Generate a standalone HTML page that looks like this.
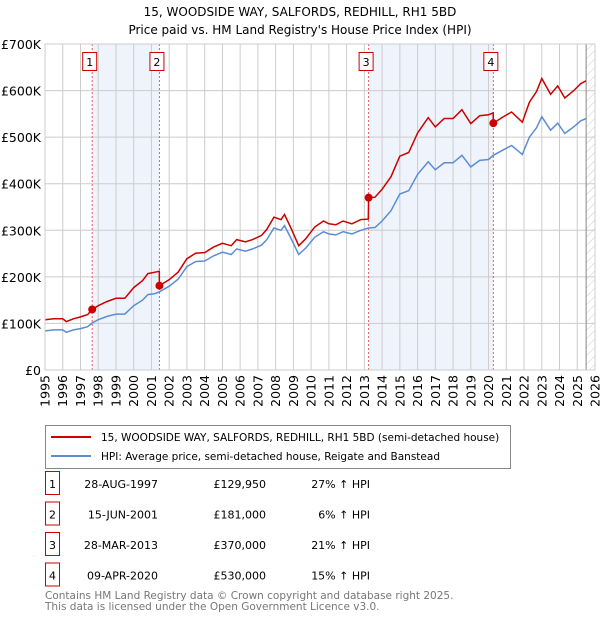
<!DOCTYPE html>
<html><head><meta charset="utf-8"><style>
body{margin:0;background:#fff;font-family:"DejaVu Sans","Liberation Sans",sans-serif;}
svg text{font-family:"DejaVu Sans","Liberation Sans",sans-serif;fill:#000;}
</style></head><body>
<svg id="c" width="600" height="620" viewBox="0 0 600 620" xmlns="http://www.w3.org/2000/svg">
<defs><pattern id="hatch" width="6" height="6" patternUnits="userSpaceOnUse" patternTransform="rotate(45)"><line x1="0" y1="0" x2="0" y2="6" stroke="#ccc" stroke-width="1"/></pattern></defs>
<text x="300" y="16" text-anchor="middle" font-size="12">15, WOODSIDE WAY, SALFORDS, REDHILL, RH1 5BD</text>
<text x="300" y="34" text-anchor="middle" font-size="12">Price paid vs. HM Land Registry's House Price Index (HPI)</text>
<g id="plot"></g>
<g>
<rect x="45.5" y="425.5" width="465" height="43" fill="#fff" stroke="#888"/>
<line x1="51" y1="437" x2="91" y2="437" stroke="#cc0000" stroke-width="2"/>
<text x="101" y="441" font-size="10.5">15, WOODSIDE WAY, SALFORDS, REDHILL, RH1 5BD (semi-detached house)</text>
<line x1="51" y1="456" x2="91" y2="456" stroke="#5b8dd6" stroke-width="2"/>
<text x="101" y="460" font-size="10.5">HPI: Average price, semi-detached house, Reigate and Banstead</text>
</g>
<g id="table" font-size="11"></g>
<text x="45" y="599" font-size="10.5" style="fill:#777">Contains HM Land Registry data © Crown copyright and database right 2025.</text>
<text x="45" y="610" font-size="10.5" style="fill:#777">This data is licensed under the Open Government Licence v3.0.</text>
</svg>
<script>
const hpiDates=[1995.0,1995.5,1996.0,1996.2,1996.6,1997.0,1997.4,1997.66,1998.0,1998.5,1999.0,1999.5,2000.0,2000.5,2000.8,2001.2,2001.45,2002.0,2002.5,2003.0,2003.5,2004.0,2004.5,2005.0,2005.5,2005.8,2006.3,2006.7,2007.2,2007.5,2007.9,2008.3,2008.5,2008.9,2009.3,2009.7,2010.2,2010.7,2011.0,2011.4,2011.8,2012.3,2012.8,2013.24,2013.6,2014.0,2014.5,2015.0,2015.5,2016.0,2016.6,2017.0,2017.5,2018.0,2018.5,2019.0,2019.5,2020.0,2020.27,2020.8,2021.3,2021.9,2022.3,2022.7,2023.0,2023.5,2023.9,2024.3,2024.8,2025.2,2025.5];
const hpiValues=[84,86,86,81,86,89,93,101,108,115,120,120,138,150,162,164,168,180,195,222,233,234,245,253,248,260,255,260,268,280,305,300,310,280,248,262,285,297,292,290,297,292,300,305,306,320,342,378,385,420,447,430,445,445,461,436,450,452,461,472,482,463,500,520,544,515,530,508,522,535,540];
const priceDates=[1995.0,1995.5,1996.0,1996.2,1996.6,1997.0,1997.4,1997.66,1998.0,1998.5,1999.0,1999.5,2000.0,2000.5,2000.8,2001.2,2001.44,2001.45,2002.0,2002.5,2003.0,2003.5,2004.0,2004.5,2005.0,2005.5,2005.8,2006.3,2006.7,2007.2,2007.5,2007.9,2008.3,2008.5,2008.9,2009.3,2009.7,2010.2,2010.7,2011.0,2011.4,2011.8,2012.3,2012.8,2013.22,2013.24,2013.6,2014.0,2014.5,2015.0,2015.5,2016.0,2016.6,2017.0,2017.5,2018.0,2018.5,2019.0,2019.5,2020.0,2020.26,2020.27,2020.8,2021.3,2021.9,2022.3,2022.7,2023.0,2023.5,2023.9,2024.3,2024.8,2025.2,2025.5];
const priceValues=[108,110,110,104,110,114,119,129.95,138,147,154,154,177,192,207,210,212,181,194,210,239,251,252,264,272,267,280,275,280,289,302,328,323,334,302,267,282,307,320,314,312,320,314,323,324,370,371,388,415,459,467,509,542,522,540,540,559,529,546,548,552,530,543,554,532,575,598,626,592,610,584,600,615,621];
const saleLabels=["1","2","3","4"];
const saleDates=[1997.66,2001.45,2013.24,2020.27];
const saleDateText=["28-AUG-1997","15-JUN-2001","28-MAR-2013","09-APR-2020"];
const salePrices=[129.95,181,370,530];
const salePriceText=["£129,950","£181,000","£370,000","£530,000"];
const saleHpiText=["27% ↑ HPI","6% ↑ HPI","21% ↑ HPI","15% ↑ HPI"];
const yTicks=[0,100,200,300,400,500,600,700];
const yTickLabels=["£0","£100K","£200K","£300K","£400K","£500K","£600K","£700K"];
const xTicks=[1995,1996,1997,1998,1999,2000,2001,2002,2003,2004,2005,2006,2007,2008,2009,2010,2011,2012,2013,2014,2015,2016,2017,2018,2019,2020,2021,2022,2023,2024,2025,2026];

const NS="http://www.w3.org/2000/svg";
const X0=45,X1=595,Y0=370,Y1=44;
const xs=t=>X0+(t-1995)/(2026-1995)*(X1-X0);
const ys=v=>Y0-v/700*(Y0-Y1);
const plot=document.getElementById('plot');
function mk(tag,attrs,parent){const e=document.createElementNS(NS,tag);for(const k in attrs)e.setAttribute(k,attrs[k]);(parent||plot).appendChild(e);return e;}

for(let i=0;i<saleDates.length;i+=2){
  const r=mk('rect',{x:xs(saleDates[i]),y:Y1,width:xs(saleDates[i+1])-xs(saleDates[i]),height:Y0-Y1,fill:'#eef3fc'});
  
  
}
const hz=mk('rect',{x:xs(2025.5),y:Y1,width:X1-xs(2025.5),height:Y0-Y1,fill:'url(#hatch)'});


yTicks.forEach((v,i)=>{
  const l=mk('line',{x1:X0,x2:X1,y1:ys(v),y2:ys(v),stroke:'#ccc','stroke-width':1});
  
  
  const t=mk('text',{x:X0-4,y:ys(v)+5,'text-anchor':'end','font-size':'12.5'});
  t.textContent=yTickLabels[i];
  
  
});
xTicks.forEach(yr=>{
  const l=mk('line',{x1:xs(yr),x2:xs(yr),y1:Y1,y2:Y0,stroke:'#ccc','stroke-width':1});
  
  
  const t=mk('text',{x:0,y:0,'font-size':'12.5','text-anchor':'end',transform:`translate(${xs(yr)+4.5},${Y0+5}) rotate(-90)`});
  t.textContent=yr;
  
  
});
const cur=mk('line',{x1:xs(2025.5),x2:xs(2025.5),y1:Y1,y2:Y0,stroke:'#888','stroke-width':1});


saleDates.forEach((d,i)=>{
  const l=mk('line',{x1:xs(d),x2:xs(d),y1:Y1,y2:Y0,stroke:'#e06060','stroke-width':1,'stroke-dasharray':'2,2'});
  
  
  const b=mk('rect',{x:xs(d)-9.5,y:52.5,width:14,height:18,fill:'#fff',stroke:'#cc0000'});
  
  
  const t=mk('text',{x:xs(d)-2.5,y:66,'text-anchor':'middle','font-size':'11'});
  t.textContent=saleLabels[i];
  
  
});
const hp=mk('path',{d:hpiDates.map((d,i)=>(i?'L':'M')+xs(d).toFixed(1)+','+ys(hpiValues[i]).toFixed(1)).join(''),fill:'none',stroke:'#5b8dd6','stroke-width':1.5});


const pp=mk('path',{d:priceDates.map((d,i)=>(i?'L':'M')+xs(d).toFixed(1)+','+ys(priceValues[i]).toFixed(1)).join(''),fill:'none',stroke:'#cc0000','stroke-width':1.5});


saleDates.forEach((d,i)=>{
  const c=mk('circle',{cx:xs(d),cy:ys(salePrices[i]),r:4,fill:'#cc0000'});
  
  
});
mk('rect',{x:X0,y:Y1,width:X1-X0,height:Y0-Y1,fill:'none',stroke:'#ccc'});
const tb=document.getElementById('table');
saleLabels.forEach((s,i)=>{
  const y=484+i*30.5;
  const b=mk('rect',{x:45.5,y:y-12.5,width:14,height:23,fill:'#fff',stroke:'#cc0000'},tb);
  
  
  const cells=[[52.5,'middle',s],[158,'end',saleDateText[i]],[266,'end',salePriceText[i]],[370,'end',saleHpiText[i]]];
  cells.forEach(c=>{
    const t=mk('text',{x:c[0],y:y+4,'text-anchor':c[1],'font-size':'11'},tb);
    t.textContent=c[2];
    
    
  });
});
</script>
</body></html>
